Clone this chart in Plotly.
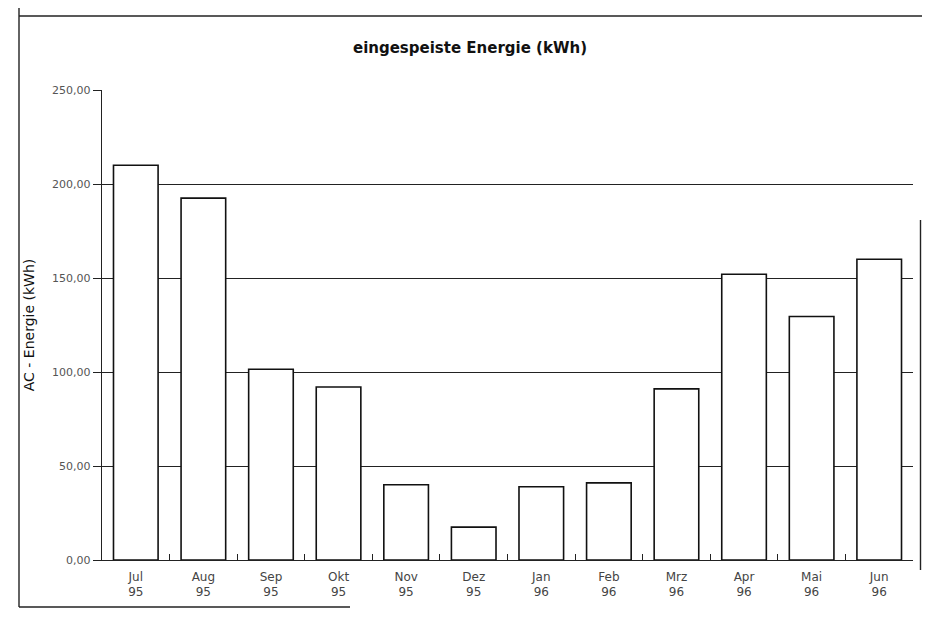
import plotly.graph_objects as go

months = ["Jul", "Aug", "Sep", "Okt", "Nov", "Dez", "Jan", "Feb", "Mrz", "Apr", "Mai", "Jun"]
years = ["95", "95", "95", "95", "95", "95", "96", "96", "96", "96", "96", "96"]
energy_kwh = [210.0, 192.5, 101.5, 92.0, 40.0, 17.5, 39.0, 41.0, 91.0, 152.0, 129.5, 160.0]
y_ticks = [0, 50, 100, 150, 200, 250]

categories = [f"{m}<br>{y}" for m, y in zip(months, years)]

fig = go.Figure()
fig.add_trace(go.Bar(
    x=categories, y=energy_kwh,
    marker=dict(color="white", line=dict(color="#111111", width=1.6)),
    width=0.66,
    hoverinfo="x+y",
))

font_family = "'DejaVu Sans', sans-serif"

# screen-space layout (page has an 8px body margin); keep the figure inside the viewport
OFF = 8
W, H = 914, 607
L, R, T, B = 94, 9, 82, 55
pw, ph = W - L - R, H - T - B


def xp(px):
    return (px - OFF - L) / pw


def yp(py):
    return (H - B - (py - OFF)) / ph


line = dict(color="#222222", width=1.4)
shapes = [
    dict(type="line", xref="paper", yref="paper", x0=xp(19), y0=yp(16), x1=xp(922), y1=yp(16), line=line),
    dict(type="line", xref="paper", yref="paper", x0=xp(19), y0=yp(8), x1=xp(19), y1=yp(607), line=line),
    dict(type="line", xref="paper", yref="paper", x0=xp(19), y0=yp(607), x1=xp(350), y1=yp(607), line=line),
    dict(type="line", xref="paper", yref="paper", x0=xp(920.5), y0=yp(220), x1=xp(920.5), y1=yp(570), line=line),
]

fig.update_layout(
    width=W, height=H,
    margin=dict(l=L, r=R, t=T, b=B),
    paper_bgcolor="white", plot_bgcolor="white",
    separators=",.",
    showlegend=False,
    font=dict(family=font_family, size=12, color="#333333"),
    title=dict(text="eingespeiste Energie (kWh)", x=(470 - OFF) / W, xanchor="center",
               y=1 - (48 - OFF) / H, yanchor="middle",
               font=dict(family=font_family, size=15, color="#111111", weight="bold")),
    shapes=shapes,
    xaxis=dict(
        type="category", tickson="boundaries", ticks="inside", ticklen=6,
        tickcolor="#222222", showline=True, linecolor="#222222", linewidth=1.4,
        showgrid=False, tickfont=dict(size=12, color="#444444"),
        ticklabelstandoff=5,
        range=[-0.5, 11.5],
    ),
    yaxis=dict(
        range=[0, 250], tickvals=y_ticks, tickformat=".2f",
        ticks="outside", ticklen=8, tickcolor="#222222",
        showline=True, linecolor="#222222", linewidth=1.4,
        showgrid=True, gridcolor="#222222", gridwidth=1.1,
        zeroline=False, tickfont=dict(size=11, color="#555555"),
        title=dict(text="AC - Energie (kWh)", standoff=14,
                   font=dict(size=14, color="#111111")),
    ),
)

fig.write_html("out.html")
